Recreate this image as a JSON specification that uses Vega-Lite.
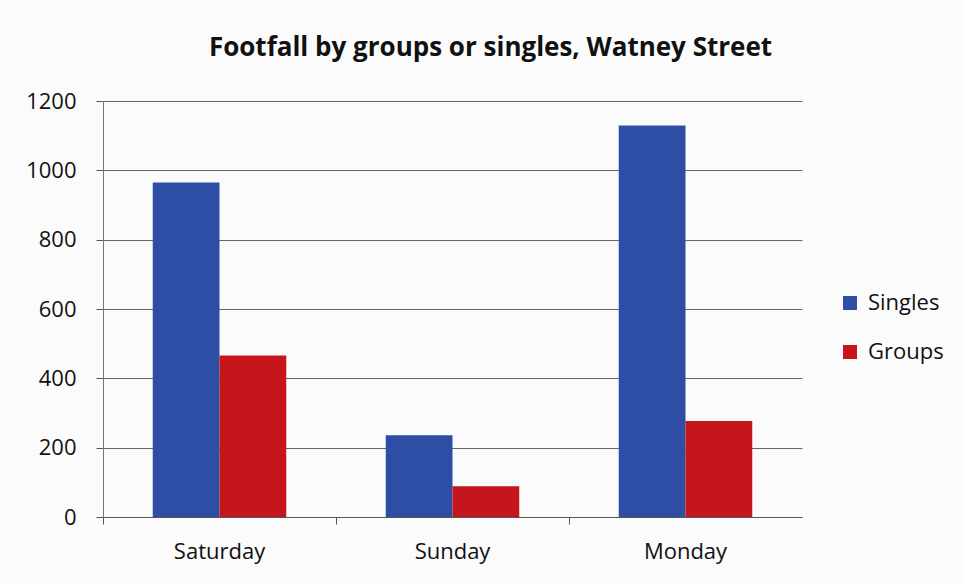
{
  "$schema": "https://vega.github.io/schema/vega-lite/v6.json",
  "autosize": {"type": "none"},
  "width": 699,
  "height": 416,
  "padding": {"left": 103, "top": 101, "right": 161, "bottom": 66},
  "background": "#fbfbfb",
  "title": {
    "text": "Footfall by groups or singles, Watney Street",
    "font": "Open Sans",
    "fontSize": 26,
    "fontWeight": "bold",
    "color": "#111111",
    "anchor": "middle",
    "dx": 38,
    "offset": 29
  },
  "data": {
    "values": [
      {"day": "Saturday", "type": "Singles", "count": 965},
      {"day": "Saturday", "type": "Groups", "count": 466},
      {"day": "Sunday", "type": "Singles", "count": 236},
      {"day": "Sunday", "type": "Groups", "count": 89},
      {"day": "Monday", "type": "Singles", "count": 1129},
      {"day": "Monday", "type": "Groups", "count": 277}
    ]
  },
  "mark": {"type": "bar"},
  "encoding": {
    "x": {
      "field": "day",
      "type": "nominal",
      "sort": ["Saturday", "Sunday", "Monday"],
      "scale": {"paddingInner": 0.427, "paddingOuter": 0.2135},
      "axis": {
        "title": null,
        "labelAngle": 0,
        "labelFont": "Open Sans",
        "labelFontSize": 22,
        "labelColor": "#111111",
        "labelPadding": 17,
        "domainColor": "#555555",
        "tickColor": "#555555",
        "tickSize": 7,
        "bandPosition": -0.3725,
        "grid": false
      }
    },
    "xOffset": {"field": "type", "sort": ["Singles", "Groups"], "scale": {"paddingInner": 0, "paddingOuter": 0}},
    "y": {
      "field": "count",
      "type": "quantitative",
      "scale": {"domain": [0, 1200], "nice": false},
      "axis": {
        "title": null,
        "values": [0, 200, 400, 600, 800, 1000, 1200],
        "format": "d",
        "labelFont": "Open Sans",
        "labelFontSize": 22,
        "labelColor": "#111111",
        "labelPadding": 20,
        "domainColor": "#777777",
        "tickColor": "#555555",
        "tickSize": 7,
        "gridColor": "#555555",
        "gridWidth": 1,
        "gridOpacity": 0.9
      }
    },
    "color": {
      "field": "type",
      "type": "nominal",
      "sort": ["Singles", "Groups"],
      "scale": {"domain": ["Singles", "Groups"], "range": ["#2e4ea6", "#c4161c"]},
      "legend": {
        "title": null,
        "orient": "none",
        "legendX": 736,
        "legendY": 191,
        "symbolType": "square",
        "symbolSize": 196,
        "symbolStrokeWidth": 0,
        "labelFont": "Open Sans",
        "labelFontSize": 22,
        "labelColor": "#111111",
        "labelOffset": 7,
        "rowPadding": 27
      }
    }
  },
  "config": {"view": {"stroke": null}}
}
